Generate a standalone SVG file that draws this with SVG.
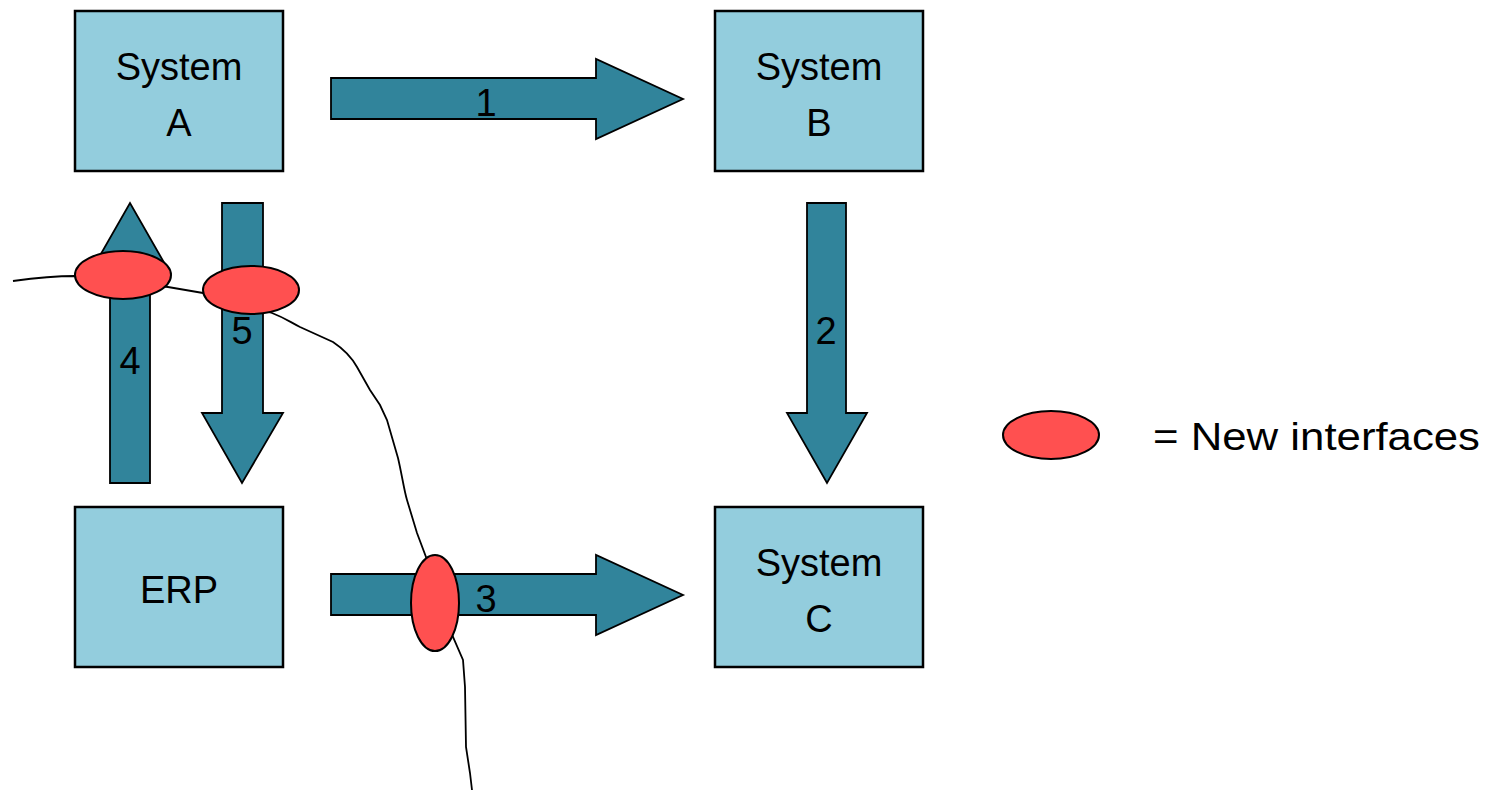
<svg xmlns="http://www.w3.org/2000/svg" width="1498" height="792" viewBox="0 0 1498 792">
<style>
.box{fill:#93CDDD;stroke:#000;stroke-width:2.5}
.arr{fill:#31849B;stroke:#000;stroke-width:1.8}
.ifc{fill:#FF5050;stroke:#000;stroke-width:2}
.t{font-family:"Liberation Sans",Arial,sans-serif;font-size:38px;fill:#000;text-anchor:middle}
.curve{fill:none;stroke:#000;stroke-width:1.8}
</style>
<rect width="1498" height="792" fill="#fff"/>
<g id="connectors">
<polygon class="arr" points="331,78 596,78 596,59 683,99 596,139 596,119 331,119"/>
<text class="t" x="486" y="116">1</text>
<polygon class="arr" points="807,203 846,203 846,413 867,413 827,483 787,413 807,413"/>
<text class="t" x="826" y="344">2</text>
<polygon class="arr" points="331,574 596,574 596,555 683,595 596,635 596,615 331,615"/>
<polygon class="arr" points="110,483 150,483 150,273 170,273 130,203 90,273 110,273"/>
<text class="t" x="130" y="374">4</text>
<polygon class="arr" points="222,203 263,203 263,413 283,413 242,483 202,413 222,413"/>
<text class="t" x="242" y="344">5</text>
</g>
<path class="curve" d="M13,281 C35,278 55,276 75,276 L168,287 L203,293 L272,313 C285,318 290,322 300,327 L333,342 C345,350 352,358 357,367 L370,390 L380,405 L387,420 L398,458 C402,475 404,490 407,500 L417,533 L426,557 L435,600 L453,637 L463,660 L465,687 L466,747 L470,773 L472,790"/>
<g id="interface-4"><ellipse class="ifc" cx="123" cy="275" rx="48" ry="24"/></g>
<g id="interface-5"><ellipse class="ifc" cx="251" cy="290" rx="48" ry="24"/></g>
<g id="interface-3"><ellipse class="ifc" cx="435" cy="603" rx="24" ry="48"/></g>
<text class="t" x="486" y="612">3</text>
<g id="system-a"><rect class="box" x="75" y="11" width="208" height="160"/><text class="t" x="179" y="80">System</text><text class="t" x="179" y="136">A</text></g>
<g id="system-b"><rect class="box" x="715" y="11" width="208" height="160"/><text class="t" x="819" y="80">System</text><text class="t" x="819" y="136">B</text></g>
<g id="erp"><rect class="box" x="75" y="507" width="208" height="160"/><text class="t" x="179" y="603">ERP</text></g>
<g id="system-c"><rect class="box" x="715" y="507" width="208" height="160"/><text class="t" x="819" y="576">System</text><text class="t" x="819" y="632">C</text></g>
<g id="legend"><ellipse class="ifc" cx="1051" cy="435" rx="48" ry="24"/><text class="t" x="1153" y="450" style="text-anchor:start" textLength="327" lengthAdjust="spacingAndGlyphs">= New interfaces</text></g>
</svg>
